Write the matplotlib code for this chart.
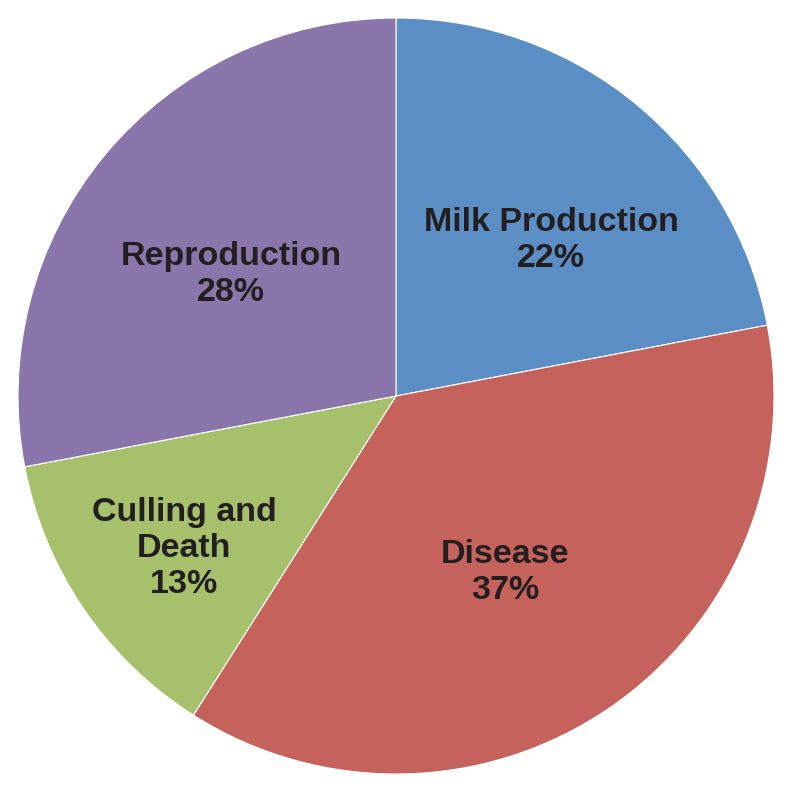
import matplotlib
matplotlib.use("Agg")
import matplotlib.pyplot as plt

categories = ["Milk Production", "Disease", "Culling and\nDeath", "Reproduction"]
values = [22, 37, 13, 28]
colors = ["#5B8EC4", "#C5625B", "#A7C06B", "#8A76AA"]
label_pos = [(0.410, 0.411), (0.288, -0.466), (-0.561, -0.403), (-0.437, 0.322)]

fig = plt.figure(figsize=(7.93, 7.93), dpi=100)
cx, cy, r = 396 / 793, 1 - 396 / 793, 378 / 793
ax = fig.add_axes([cx - r, cy - r, 2 * r, 2 * r])
wedges, _ = ax.pie(values, colors=colors, startangle=90, counterclock=False,
                   radius=1, wedgeprops=dict(edgecolor="white", linewidth=0.8))
ax.set_xlim(-1, 1)
ax.set_ylim(-1, 1)
ax.set_aspect("equal")
ax.axis("off")

for cat, v, (x, y) in zip(categories, values, label_pos):
    ax.text(x, y, f"{cat}\n{v}%", ha="center", va="center", fontsize=24.5,
            fontweight="bold", family="Liberation Sans", color="#231f20",
            linespacing=1.22)

fig.savefig("out.png", dpi=100)
